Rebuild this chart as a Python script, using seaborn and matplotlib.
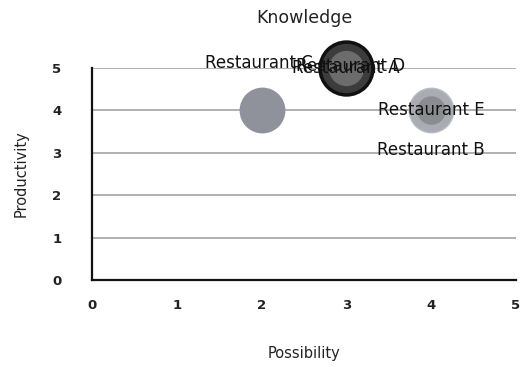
import matplotlib
matplotlib.use("Agg")
import matplotlib.pyplot as plt
import seaborn as sns
import pandas as pd

names = ["Restaurant A", "Restaurant B", "Restaurant C", "Restaurant D", "Restaurant E"]
possibility = [3, 4, 2, 3, 4]
productivity = [5, 4, 4, 5, 4]
knowledge = [5, 4, 4, 3, 2.5]
x_ticks = [0, 1, 2, 3, 4, 5]
y_ticks = [0, 1, 2, 3, 4, 5]

df = pd.DataFrame({"name": names, "Possibility": possibility,
                   "Productivity": productivity, "Knowledge": knowledge})

sns.set_theme(style="white")
plt.rcParams['font.family'] = ['DejaVu Sans']

fig = plt.figure(figsize=(5.21, 3.67), dpi=100)
ax = fig.add_axes([0.1766, 0.237, 0.8134, 0.578])

palette = {"Restaurant A": "#3c3c3c", "Restaurant B": "#a9acb3",
           "Restaurant C": "#8f929a", "Restaurant D": "#6c6c6c",
           "Restaurant E": "#8b8c8f"}
edges = {"Restaurant A": "#111111", "Restaurant B": "#b8bbc1",
         "Restaurant C": "#8f929a", "Restaurant D": "#6c6c6c",
         "Restaurant E": "#8b8c8f"}
lws = {"Restaurant A": 2.5, "Restaurant B": 1, "Restaurant C": 1,
       "Restaurant D": 1, "Restaurant E": 1}
zs = {"Restaurant A": 2, "Restaurant B": 2, "Restaurant C": 2,
      "Restaurant D": 3, "Restaurant E": 3}

for y in y_ticks[1:]:
    ax.axhline(y, color="#a3a3a3", lw=1.2, zorder=0.5)

for n in names:
    sub = df[df["name"] == n]
    sns.scatterplot(data=sub, x="Possibility", y="Productivity", size="Knowledge",
                    sizes=(380, 1450), size_norm=(2.5, 5), color=palette[n],
                    edgecolor=edges[n], linewidth=lws[n], ax=ax, legend=False,
                    zorder=zs[n])

label_offsets = {"Restaurant A": (0, 0), "Restaurant B": (0, -40),
                 "Restaurant C": (-3, 47), "Restaurant D": (4, 2),
                 "Restaurant E": (0, 0)}
for n, px, py in zip(names, possibility, productivity):
    dx, dy = label_offsets[n]
    ax.annotate(n, (px, py), xytext=(dx, dy), textcoords="offset pixels",
                ha="center", va="center", fontsize=12, color="#111111", zorder=5)

ax.set_xlim(0, 5)
ax.set_ylim(0, 5)
ax.set_xticks(x_ticks)
ax.set_yticks(y_ticks)
ax.tick_params(axis="x", length=0, pad=14, labelsize=9.5, colors="#222222")
ax.tick_params(axis="y", length=0, pad=22, labelsize=9.5, colors="#222222")
for lab in ax.get_xticklabels() + ax.get_yticklabels():
    lab.set_fontweight("bold")
ax.spines["top"].set_visible(False)
ax.spines["right"].set_visible(False)
for s in ("left", "bottom"):
    ax.spines[s].set_color("#111111")
    ax.spines[s].set_linewidth(1.6)
ax.set_xlabel("Possibility", fontsize=10.5, color="#222222", labelpad=24)
ax.set_ylabel("Productivity", fontsize=10.5, color="#222222", labelpad=17)
fig.text(0.585, 0.95, "Knowledge", ha="center", va="center", fontsize=12.5, color="#222222")
for c in ax.collections:
    c.set_clip_on(False)

fig.savefig("out.png", dpi=100, facecolor="white")
